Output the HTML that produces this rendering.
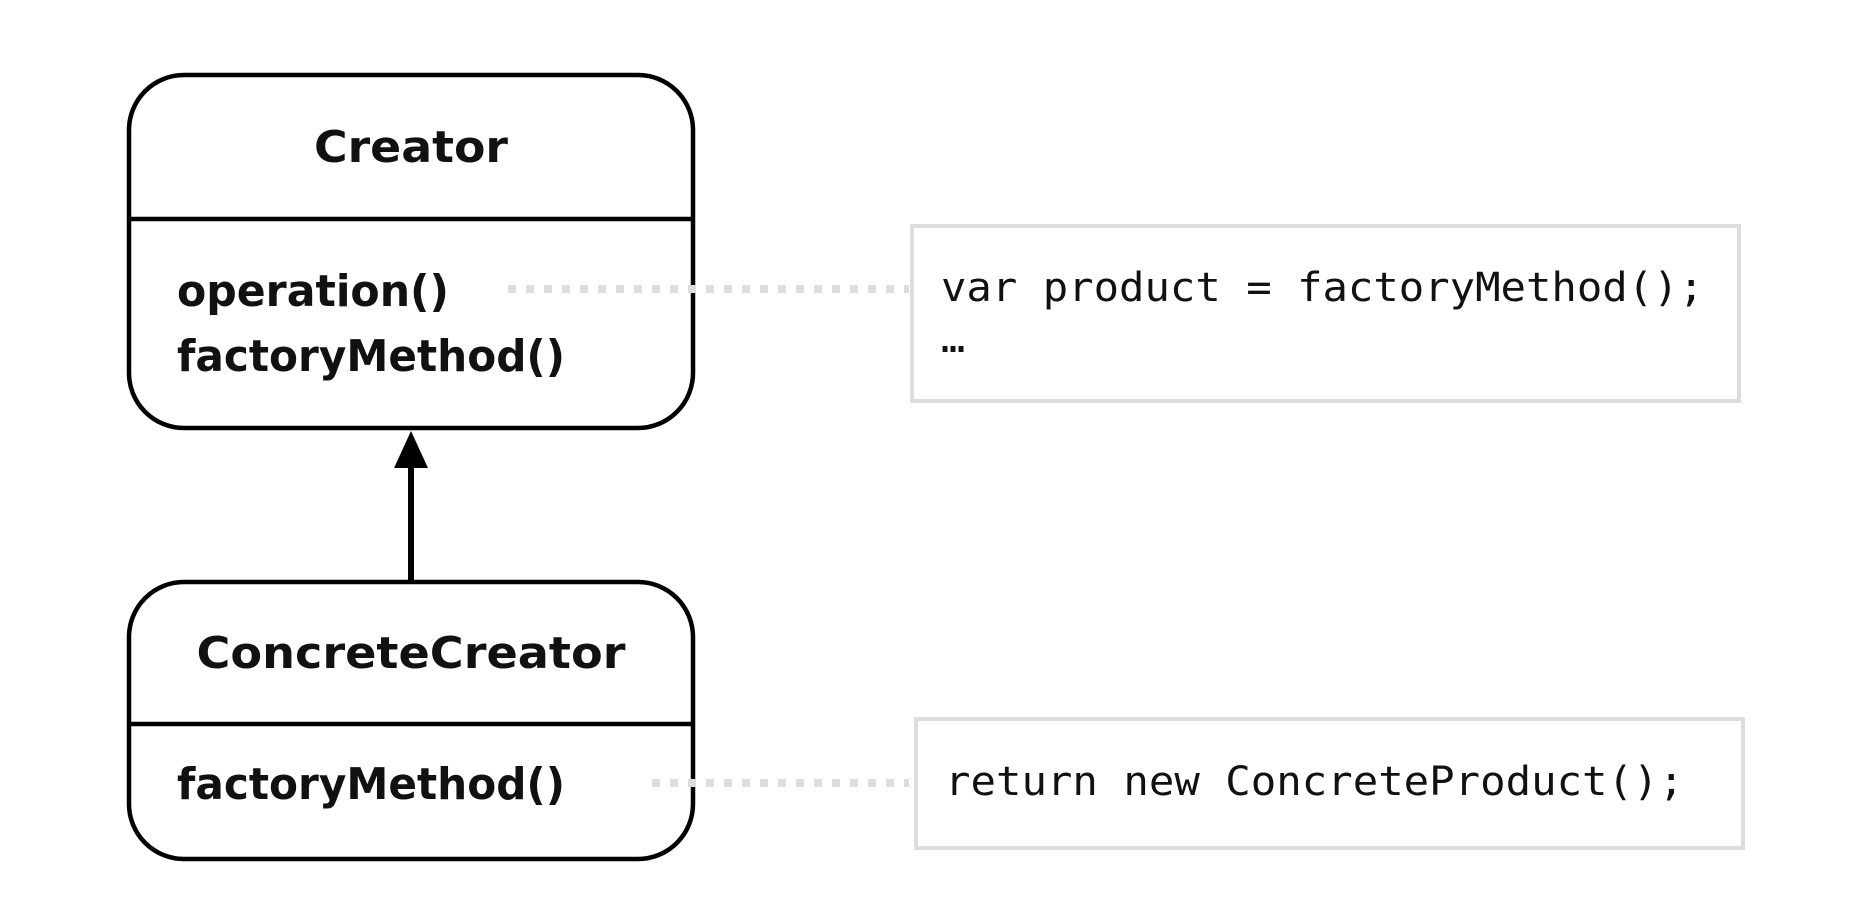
<!DOCTYPE html>
<html><head><meta charset="utf-8"><style>html,body{margin:0;padding:0;background:#fff;}svg{display:block}</style></head>
<body>
<svg width="1875" height="917" xmlns="http://www.w3.org/2000/svg">
<rect width="1875" height="917" fill="#fff"/>
<g fill="none" stroke="#000" stroke-width="4.5">
<rect x="129" y="75" width="564" height="353" rx="55"/>
<line x1="129" y1="219" x2="693" y2="219"/>
<rect x="129" y="582" width="564" height="277" rx="55"/>
<line x1="129" y1="724" x2="693" y2="724"/>
</g>
<line x1="411" y1="582" x2="411" y2="462" stroke="#000" stroke-width="6"/>
<polygon points="411,431 394,468 428,468" fill="#000"/>
<g stroke="#ddd" stroke-width="8" stroke-dasharray="8 10">
<line x1="508" y1="289" x2="909" y2="289"/>
<line x1="652" y1="783" x2="909" y2="783"/>
</g>
<g fill="none" stroke="#ddd" stroke-width="4">
<rect x="912" y="226" width="827" height="175"/>
<rect x="916" y="719" width="827" height="129"/>
</g>
<g font-family="'DejaVu Sans','Liberation Sans',sans-serif" font-weight="bold" font-size="44" fill="#111">
<text x="411" y="162" text-anchor="middle" textLength="194" lengthAdjust="spacingAndGlyphs">Creator</text>
<text x="177" y="306" textLength="272" lengthAdjust="spacingAndGlyphs">operation()</text>
<text x="177" y="371" textLength="388" lengthAdjust="spacingAndGlyphs">factoryMethod()</text>
<text x="411" y="668" text-anchor="middle" textLength="429" lengthAdjust="spacingAndGlyphs">ConcreteCreator</text>
<text x="177" y="799" textLength="388" lengthAdjust="spacingAndGlyphs">factoryMethod()</text>
</g>
<g font-family="'DejaVu Sans Mono','Liberation Mono',monospace" font-size="40" fill="#111">
<text x="941" y="301" textLength="763" lengthAdjust="spacingAndGlyphs">var product = factoryMethod();</text>
<text x="941" y="352">…</text>
<text x="945" y="795" textLength="739" lengthAdjust="spacingAndGlyphs">return new ConcreteProduct();</text>
</g>
</svg>
</body></html>
